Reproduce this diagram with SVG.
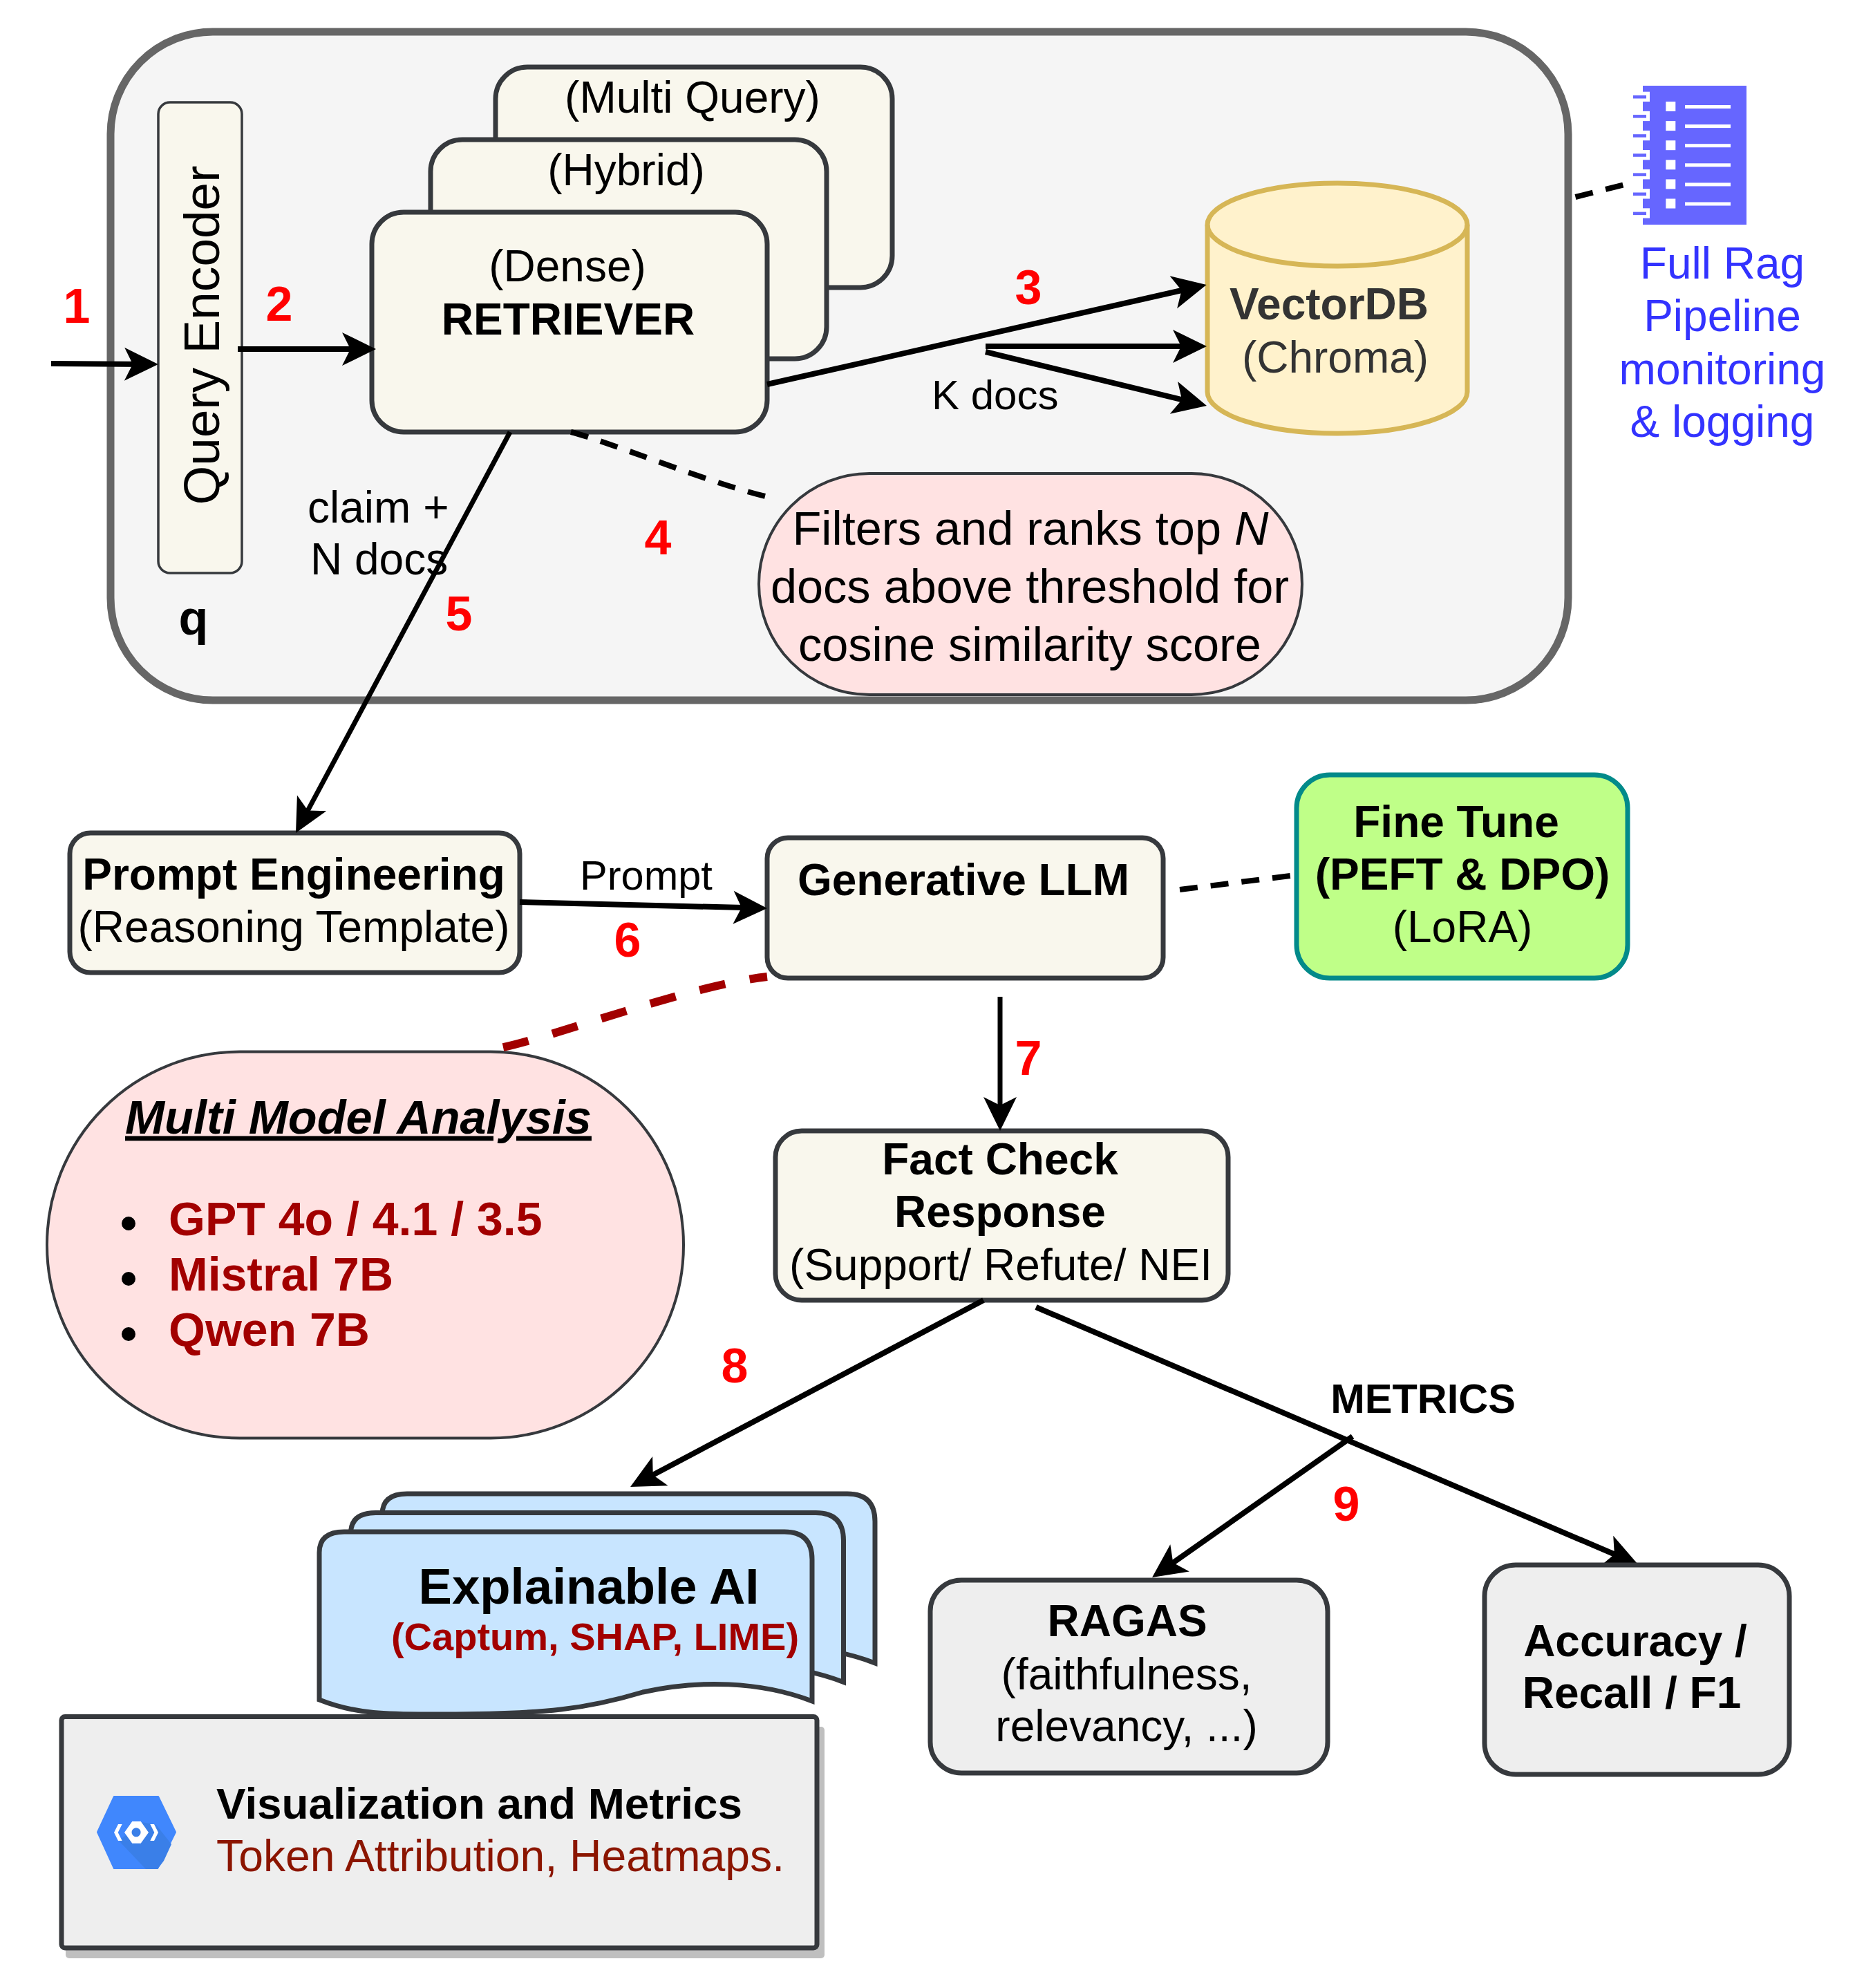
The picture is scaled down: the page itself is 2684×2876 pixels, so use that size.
<svg xmlns="http://www.w3.org/2000/svg" xmlns:xlink="http://www.w3.org/1999/xlink" width="2684" height="2876" viewBox="0 0 2684 2876">
<style>
text{font-family:"Liberation Sans",Arial,sans-serif;font-size:64px;fill:#000}
.c{text-anchor:middle}
.b{font-weight:700}
.num{font-weight:700;font-size:70px;fill:#f00;text-anchor:middle}
.dark{fill:#a20000}
.box{fill:#f9f7ed;stroke:#36393d;stroke-width:7}
.grey{fill:#eee;stroke:#36393d;stroke-width:7}
.pink{fill:#ffe2e2;stroke:#36393d;stroke-width:4}
.con{fill:none;stroke:#000;stroke-width:8}
.thin{stroke-width:7}
.arrow{marker-end:url(#head)}
.dash{stroke-dasharray:26 19}
.ink{fill:#66f}
.wh{fill:#fff}
</style>
<defs>
<marker id="head" markerUnits="userSpaceOnUse" viewBox="-52 -26 54 52" markerWidth="54" markerHeight="52" refX="-14" refY="0" orient="auto" overflow="visible">
<path d="M0,0 L-49,-24 L-37,0 L-49,24 Z" fill="#000"/>
</marker>
<path id="doc" d="M462,2459 V2246 Q462,2216 498,2216 H1135 Q1175,2216 1175,2256 V2461 C1100,2432 1010,2430 930,2448 C850,2472 790,2480 642,2480 C570,2480 520,2482 462,2459 Z" fill="#c8e5ff" stroke="#36393d" stroke-width="7"/>
</defs>

<rect id="panel" x="160" y="46" width="2109" height="967" rx="148" ry="148" fill="#f5f5f5" stroke="#666" stroke-width="11"/>

<g id="node-encoder">
<rect x="229" y="148" width="121" height="681" rx="17" fill="#f9f7ed" stroke="#36393d" stroke-width="3.5"/>
<text class="c" style="font-size:73px" transform="translate(317,485) rotate(-90)">Query Encoder</text>
<text class="c b" x="280" y="918" style="font-size:70px">q</text>
</g>

<g id="node-multi-query">
<rect class="box" x="717" y="97" width="574" height="319" rx="46"/>
<text class="c" x="1002" y="163">(Multi Query)</text>
</g>
<g id="node-hybrid">
<rect class="box" x="623" y="202" width="573" height="317" rx="46"/>
<text class="c" x="906" y="268">(Hybrid)</text>
</g>
<g id="node-retriever">
<rect class="box" x="538" y="307" width="572" height="318" rx="46"/>
<text class="c" x="821" y="407">(Dense)</text>
<text class="c b" x="822" y="484">RETRIEVER</text>
</g>

<g id="node-vectordb">
<path d="M1747,325 V567 A188,60 0 0 0 2123,567 V325 A188,60 0 0 0 1747,325 Z" fill="#fff2cc" stroke="#d6b656" stroke-width="7"/>
<path d="M1747,325 A188,60 0 0 0 2123,325" fill="none" stroke="#d6b656" stroke-width="7"/>
<text class="c b" x="1923" y="462" style="fill:#333">VectorDB</text>
<text class="c" x="1932" y="539" style="fill:#333">(Chroma)</text>
</g>

<g id="node-filter">
<rect class="pink" x="1098" y="685" width="786" height="320" rx="160" ry="160"/>
<text class="c" x="1491" y="788" style="font-size:68.500px">Filters and ranks top <tspan font-style="italic">N</tspan></text>
<text class="c" x="1490" y="872" style="font-size:68.500px">docs above threshold for</text>
<text class="c" x="1490" y="956" style="font-size:68.500px">cosine similarity score</text>
</g>

<g id="node-logging">
<rect class="ink" x="2377" y="124" width="150" height="201"/>
<g class="wh">
<rect x="2377" y="132.7" width="10" height="14.3"/><rect x="2377" y="160.8" width="10" height="14.3"/><rect x="2377" y="188.9" width="10" height="14.3"/><rect x="2377" y="217" width="10" height="14.3"/><rect x="2377" y="245.1" width="10" height="14.3"/><rect x="2377" y="273.2" width="10" height="14.3"/><rect x="2377" y="301.3" width="10" height="14.3"/>
<rect x="2410.3" y="147" width="14" height="14"/><rect x="2410.3" y="175.1" width="14" height="14"/><rect x="2410.3" y="203.2" width="14" height="14"/><rect x="2410.3" y="231.3" width="14" height="14"/><rect x="2410.3" y="259.4" width="14" height="14"/><rect x="2410.3" y="287.5" width="14" height="14"/>
<rect x="2438" y="152" width="66" height="5"/><rect x="2438" y="180.1" width="66" height="5"/><rect x="2438" y="208.2" width="66" height="5"/><rect x="2438" y="236.3" width="66" height="5"/><rect x="2438" y="264.4" width="66" height="5"/><rect x="2438" y="292.5" width="66" height="5"/>
</g>
<g class="ink">
<rect x="2363" y="138" width="19" height="4.5"/><rect x="2363" y="166.1" width="19" height="4.5"/><rect x="2363" y="194.2" width="19" height="4.5"/><rect x="2363" y="222.3" width="19" height="4.5"/><rect x="2363" y="250.4" width="19" height="4.5"/><rect x="2363" y="278.5" width="19" height="4.5"/><rect x="2363" y="306.6" width="19" height="4.5"/>
</g>
<text class="c" x="2492" y="403" style="fill:#33f">Full Rag</text>
<text class="c" x="2492" y="479" style="fill:#33f">Pipeline</text>
<text class="c" x="2492" y="556" style="fill:#33f">monitoring</text>
<text class="c" x="2492" y="632" style="fill:#33f">&amp; logging</text>
</g>

<g id="node-prompt">
<rect class="box" x="101" y="1205" width="651" height="202" rx="30"/>
<text class="c b" x="425" y="1287">Prompt Engineering</text>
<text class="c" x="425" y="1363">(Reasoning Template)</text>
</g>
<g id="node-llm">
<rect class="box" x="1110" y="1212" width="573" height="203" rx="30"/>
<text class="c b" x="1394" y="1295">Generative LLM</text>
</g>
<g id="node-finetune">
<rect x="1876" y="1121" width="479" height="294" rx="48" fill="#bfff88" stroke="#028a8a" stroke-width="7"/>
<text class="c b" x="2107" y="1211">Fine Tune</text>
<text class="c b" x="2116" y="1287">(PEFT &amp; DPO)</text>
<text class="c" x="2116" y="1363">(LoRA)</text>
</g>

<g id="node-multimodel">
<rect class="pink" x="68" y="1521.5" width="921" height="559" rx="279" ry="279"/>
<text x="181" y="1639.5" style="font-size:68.500px;font-weight:700;font-style:italic;text-decoration:underline">Multi Model Analysis</text>
<circle cx="186" cy="1770" r="10"/><circle cx="186" cy="1850" r="10"/><circle cx="186" cy="1930" r="10"/>
<text class="b dark" x="244" y="1787" style="font-size:68px">GPT 4o / 4.1 / 3.5</text>
<text class="b dark" x="244" y="1867" style="font-size:68px">Mistral 7B</text>
<text class="b dark" x="244" y="1947" style="font-size:68px">Qwen 7B</text>
</g>

<g id="node-factcheck">
<rect class="box" x="1122" y="1636" width="655" height="245" rx="38"/>
<text class="c b" x="1447" y="1699">Fact Check</text>
<text class="c b" x="1447" y="1775">Response</text>
<text class="c" x="1448" y="1852">(Support/ Refute/ NEI</text>
</g>

<g id="node-xai">
<use href="#doc" xlink:href="#doc" transform="translate(91,-55)"/>
<use href="#doc" xlink:href="#doc" transform="translate(45.5,-27.5)"/>
<use href="#doc" xlink:href="#doc"/>
<text class="c b" x="852" y="2320" style="font-size:72.500px">Explainable AI</text>
<text class="c b dark" x="861" y="2387" style="font-size:56px">(Captum, SHAP, LIME)</text>
</g>

<g id="node-visualization">
<rect x="95" y="2498" width="1098" height="335" rx="5" fill="#bfbfbf"/>
<rect class="grey" x="89" y="2483.5" width="1093" height="334.5" rx="5"/>
<path d="M165,2599 H229 L254,2650.5 L228,2703 H165 L141,2650.5 Z" fill="#4087fd" stroke="#4087fd" stroke-width="2" stroke-linejoin="round"/>
<path d="M172,2663 L211,2704 H228 L237,2692 L248,2668 L226,2640 L205,2636 Z" fill="#3a7fe8"/>
<g class="wh">
<path d="M180,2651 L191.300,2635 H203.700 L215,2651 L203.700,2666.700 H191.300 Z M197,2644.300 A6.500,6.500 0 1 0 197.100,2644.300 Z" fill-rule="evenodd"/>
<path d="M165,2651 L171,2639 H176.700 L170.700,2651 L176.700,2663 H171 Z"/>
<path d="M229,2651 L223,2639 H217.300 L223.300,2651 L217.300,2663 H223 Z"/>
</g>
<text class="b" x="313" y="2631" style="font-size:63.800px">Visualization and Metrics</text>
<text x="313" y="2707" style="font-size:64.300px;fill:#8b1500">Token Attribution, Heatmaps.</text>
</g>

<g id="node-ragas">
<rect class="grey" x="1346" y="2286" width="575" height="279" rx="45"/>
<text class="c b" x="1631" y="2367">RAGAS</text>
<text class="c" x="1630" y="2443.500">(faithfulness,</text>
<text class="c" x="1630" y="2519">relevancy, ...)</text>
</g>

<g id="connectors">
<path class="con arrow" d="M74,526 L215,527"/>
<path class="con arrow" d="M344,505 H530"/>
<path class="con arrow" d="M1110,556 L1732,415"/>
<path class="con arrow" d="M1426,501 H1732"/>
<path class="con arrow" d="M1426,509 L1732.400,583.700"/>
<path class="con thin arrow" d="M738,625 L434.600,1192.700"/>
<path class="con arrow" d="M752,1305 L1096,1313.600"/>
<path class="con thin arrow" d="M1447,1442 V1622"/>
<path class="con arrow" d="M1423,1881 L924.400,2144.500"/>
<path class="con arrow" d="M1499,1891 L2357,2257.500"/>
<path class="con arrow" d="M1957,2078 L1678.500,2274"/>
<path class="con dash" d="M826,625 C880,638 1040,705 1125,722"/>
<path class="con dash" d="M2279.500,285 L2350.600,267"/>
<path class="con dash" d="M1707,1287 L1875,1266"/>
<path d="M728,1515 C800,1500 1000,1425 1110,1413" fill="none" stroke="#a20000" stroke-width="12" stroke-dasharray="38 36"/>
</g>

<g id="node-accuracy">
<rect class="grey" x="2148" y="2264" width="441" height="303" rx="45"/>
<text class="c b" x="2366" y="2395.500">Accuracy /</text>
<text class="c b" x="2361" y="2471">Recall / F1</text>
</g>

<g id="labels">
<text class="num" x="111" y="467">1</text>
<text class="num" x="404" y="464">2</text>
<text class="num" x="1488" y="440">3</text>
<text class="num" x="952" y="802">4</text>
<text class="num" x="664" y="912">5</text>
<text class="num" x="908" y="1384">6</text>
<text class="num" x="1488" y="1555">7</text>
<text class="num" x="1063" y="2000">8</text>
<text class="num" x="1948" y="2200">9</text>
<text x="445" y="756">claim +</text>
<text x="449" y="831">N docs</text>
<text x="1348" y="592" style="font-size:60px">K docs</text>
<text class="c" x="935" y="1287" style="font-size:59.500px">Prompt</text>
<text class="c b" x="2059" y="2044" style="font-size:59.500px">METRICS</text>
</g>
</svg>
